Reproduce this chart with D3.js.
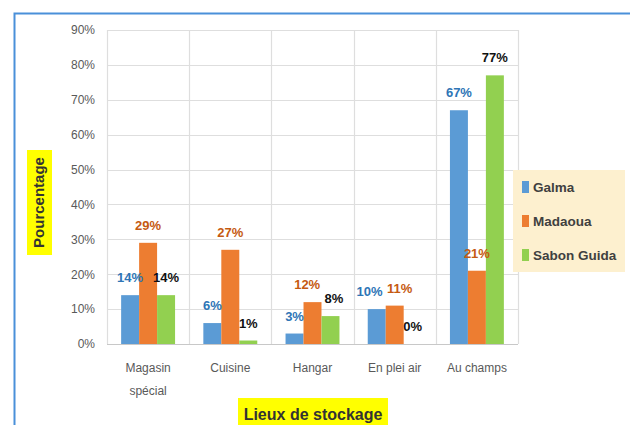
<!DOCTYPE html>
<html>
<head>
<meta charset="utf-8">
<script src="https://cdn.jsdelivr.net/npm/d3@7"></script>
<style>
  body { margin: 0; background: #fff; }
  text { font-family: "Liberation Sans", Arial, sans-serif; }
</style>
</head>
<body>
<div id="graph"></div>
<script>
// data
const categories = ["Magasin\nspécial", "Cuisine", "Hangar", "En plei air", "Au champs"];
const seriesNames = ["Galma", "Madaoua", "Sabon Guida"];
const galma = [14, 6, 3, 10, 67];
const madaoua = [29, 27, 12, 11, 21];
const sabonGuida = [14, 1, 8, 0, 77];
const yTicks = [0, 10, 20, 30, 40, 50, 60, 70, 80, 90];

const barColors = ["#5b9bd5", "#ed7d31", "#92d050"];
const labelColors = ["#2e75b6", "#c55a11", "#111111"];

const values = [galma, madaoua, sabonGuida];
const rows = [];
categories.forEach((c, i) => {
  seriesNames.forEach((s, j) => {
    rows.push({ cat: c, series: s, idx: j, value: values[j][i] });
  });
});

const width = 630;
const height = 425;
const plotLeft = 107, plotRight = 518, plotTop = 30, plotBottom = 344;

const svg = d3.select("#graph")
              .append("svg")
              .attr("width", width)
              .attr("height", height);

// outer frame
svg.append("rect")
   .attr("x", 14.5)
   .attr("y", 13.5)
   .attr("width", 700)
   .attr("height", 500)
   .attr("fill", "none")
   .attr("stroke", "#4a90d9")
   .attr("stroke-width", 2);

const x0 = d3.scaleBand()
             .domain(categories)
             .range([plotLeft, plotRight])
             .padding(0);

const x1 = d3.scaleBand()
             .domain(seriesNames)
             .range([x0.bandwidth() * 0.172, x0.bandwidth() * 0.828]);

const y = d3.scaleLinear()
            .domain([0, 90])
            .range([plotBottom, plotTop]);

// horizontal grid
svg.append("g")
   .selectAll("line")
   .data(yTicks)
   .enter()
   .append("line")
   .attr("x1", plotLeft)
   .attr("x2", plotRight)
   .attr("y1", d => Math.round(y(d)) + 0.5)
   .attr("y2", d => Math.round(y(d)) + 0.5)
   .attr("stroke", d => d === 0 ? "#c8c8c8" : "#dedede")
   .attr("stroke-width", 1.2);

// vertical grid at category edges
const edges = categories.map(c => x0(c)).concat([plotRight]);
svg.append("g")
   .selectAll("line")
   .data(edges)
   .enter()
   .append("line")
   .attr("x1", d => Math.round(d) + 0.5)
   .attr("x2", d => Math.round(d) + 0.5)
   .attr("y1", plotTop)
   .attr("y2", plotBottom)
   .attr("stroke", "#dedede")
   .attr("stroke-width", 1.2);

// y axis
const yAxis = d3.axisLeft(y)
                .tickValues(yTicks)
                .tickFormat(d => d + "%")
                .tickSize(0)
                .tickPadding(12);

const gy = svg.append("g")
              .attr("transform", `translate(${plotLeft}, 0)`)
              .call(yAxis);
gy.select(".domain").remove();
gy.selectAll("text")
  .style("font-size", "12px")
  .style("fill", "#595959");

// x axis (labels drawn below as multi-line text)
const xAxis = d3.axisBottom(x0).tickSize(0).tickFormat(() => "");
const gx = svg.append("g")
              .attr("transform", `translate(0, ${plotBottom})`)
              .call(xAxis);
gx.select(".domain").remove();

svg.append("g")
   .selectAll("text")
   .data(categories)
   .enter()
   .append("text")
   .attr("y", plotBottom + 28)
   .style("text-anchor", "middle")
   .style("font-size", "12px")
   .style("fill", "#595959")
   .each(function(d) {
     d.split("\n").forEach((line, i) => {
       d3.select(this).append("tspan")
         .attr("x", x0(d) + x0.bandwidth() / 2)
         .attr("dy", i === 0 ? 0 : 23)
         .text(line);
     });
   });

// bars
svg.append("g")
   .selectAll("rect")
   .data(rows)
   .enter()
   .append("rect")
   .attr("x", d => x0(d.cat) + x1(d.series))
   .attr("y", d => y(d.value))
   .attr("width", x1.bandwidth())
   .attr("height", d => plotBottom - y(d.value))
   .attr("fill", d => barColors[d.idx]);

// value labels
const labels = svg.append("g")
   .selectAll("text")
   .data(rows)
   .enter()
   .append("text")
   .attr("x", d => x0(d.cat) + x1(d.series) + x1.bandwidth() / 2)
   .attr("y", d => y(d.value) - 13)
   .style("text-anchor", "middle")
   .style("font-size", "13px")
   .style("font-weight", "bold")
   .style("fill", d => labelColors[d.idx])
   .text(d => d.value + "%");

// push apart labels that collide inside a group (as Excel did)
const nodes = labels.nodes();
for (let k = 0; k < nodes.length - 1; k++) {
  const a = nodes[k], b = nodes[k + 1];
  const da = d3.select(a).datum(), db = d3.select(b).datum();
  if (da.cat !== db.cat) continue;
  const ba = a.getBBox(), bb = b.getBBox();
  const vOverlap = ba.y < bb.y + bb.height && bb.y < ba.y + ba.height;
  const hOverlap = ba.x + ba.width + 4 - bb.x;
  if (vOverlap && hOverlap > 0) {
    d3.select(a).attr("x", +d3.select(a).attr("x") - hOverlap * 0.6);
    d3.select(b).attr("x", +d3.select(b).attr("x") + hOverlap * 0.4);
  }
}

// legend
const legend = svg.append("g");
legend.append("rect")
      .attr("x", 513)
      .attr("y", 170)
      .attr("width", 112)
      .attr("height", 102)
      .attr("fill", "#fdf0cf");

seriesNames.forEach((s, j) => {
  const ly = 187 + j * 34;
  legend.append("rect")
        .attr("x", 522)
        .attr("y", ly - 6)
        .attr("width", 7)
        .attr("height", 12)
        .attr("fill", barColors[j]);
  legend.append("text")
        .attr("x", 533)
        .attr("y", ly + 5)
        .style("font-size", "13.5px")
        .style("font-weight", "bold")
        .style("fill", "#404040")
        .text(s);
});

// axis titles with yellow highlight
svg.append("rect")
   .attr("x", 238)
   .attr("y", 398)
   .attr("width", 150)
   .attr("height", 30)
   .attr("fill", "#ffff00");

svg.append("text")
   .attr("x", 313)
   .attr("y", 420)
   .style("text-anchor", "middle")
   .style("font-size", "16px")
   .style("font-weight", "bold")
   .style("fill", "#333333")
   .text("Lieux de stockage");

svg.append("rect")
   .attr("x", 27)
   .attr("y", 150)
   .attr("width", 25)
   .attr("height", 105)
   .attr("fill", "#ffff00");

svg.append("text")
   .attr("transform", "translate(44, 202.5) rotate(-90)")
   .style("text-anchor", "middle")
   .style("font-size", "15px")
   .style("font-weight", "bold")
   .style("fill", "#333333")
   .text("Pourcentage");
</script>
</body>
</html>
